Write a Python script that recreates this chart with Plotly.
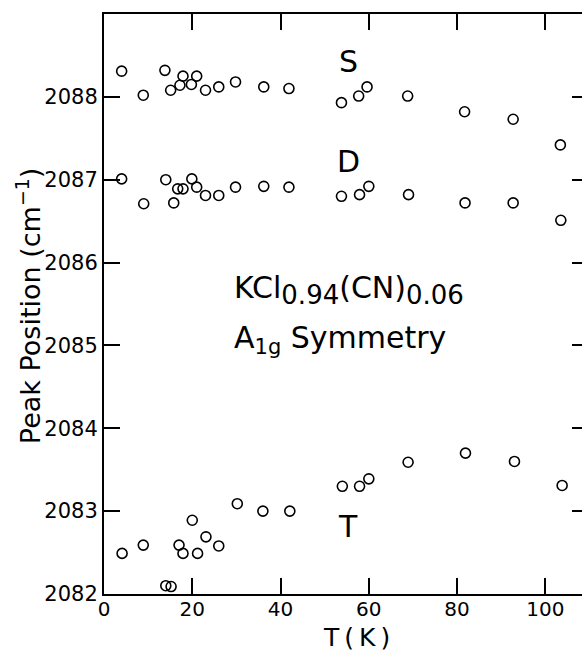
import plotly.graph_objects as go

# Temperatures (K) and peak positions (cm^-1)
S_T = [4.0, 8.9, 13.8, 15.1, 17.2, 17.9, 19.8, 21.0, 23.0, 26.0, 29.8, 36.2, 41.9,
       53.8, 57.7, 59.6, 68.8, 81.7, 92.7, 103.4]
S_pos = [2088.31, 2088.02, 2088.32, 2088.08, 2088.14, 2088.25, 2088.15, 2088.25, 2088.08,
         2088.12, 2088.18, 2088.12, 2088.10, 2087.93, 2088.01, 2088.12, 2088.01, 2087.82,
         2087.73, 2087.42]

D_T = [4.0, 9.0, 14.0, 15.8, 16.7, 17.9, 19.9, 21.0, 23.0, 26.0, 29.8, 36.2, 41.9,
       53.8, 57.9, 60.0, 69.0, 81.8, 92.7, 103.5]
D_pos = [2087.01, 2086.71, 2087.00, 2086.72, 2086.89, 2086.89, 2087.01, 2086.91, 2086.81,
         2086.81, 2086.91, 2086.92, 2086.91, 2086.80, 2086.82, 2086.92, 2086.82, 2086.72,
         2086.72, 2086.51]

T_T = [4.1, 8.9, 14.0, 15.2, 17.0, 17.9, 20.0, 21.2, 23.1, 26.0, 30.2, 36.0, 42.1,
       54.0, 57.9, 60.0, 68.9, 81.9, 93.0, 103.8]
T_pos = [2082.49, 2082.59, 2082.10, 2082.09, 2082.59, 2082.49, 2082.89, 2082.49, 2082.69,
         2082.58, 2083.09, 2083.00, 2083.00, 2083.30, 2083.30, 2083.39, 2083.59, 2083.70,
         2083.60, 2083.31]

x_ticks = [0, 20, 40, 60, 80, 100]
y_ticks = [2082, 2083, 2084, 2085, 2086, 2087, 2088]
y_right_ticks = [2083, 2084, 2085, 2086, 2087, 2088]

FONT = "DejaVu Sans"

fig = go.Figure()
marker = dict(symbol="circle-open", size=10, color="black", line=dict(width=1.6, color="black"))
for xs, ys in [(S_T, S_pos), (D_T, D_pos), (T_T, T_pos)]:
    fig.add_trace(go.Scatter(x=xs, y=ys, mode="markers", marker=marker,
                             showlegend=False, hoverinfo="skip"))
# invisible trace so the right-hand tick axis is drawn
fig.add_trace(go.Scatter(x=S_T, y=S_pos, mode="markers", yaxis="y2",
                         marker=dict(opacity=0), showlegend=False, hoverinfo="skip"))

fig.update_layout(
    width=582, height=654,
    margin=dict(l=104, r=0, t=14, b=60),
    paper_bgcolor="white", plot_bgcolor="white",
    font=dict(family=FONT, color="black"),
    xaxis=dict(range=[0, 108.3], tickvals=x_ticks, ticks="inside", ticklen=16, tickwidth=2,
               tickcolor="black", showline=True, linewidth=2, linecolor="black",
               mirror="ticks", showgrid=False, zeroline=False, ticklabelstandoff=-4,
               tickfont=dict(family=FONT, size=20, color="black")),
    yaxis=dict(range=[2082, 2089], tickvals=y_ticks, ticks="inside", ticklen=16, tickwidth=2,
               tickcolor="black", showline=True, linewidth=2, linecolor="black",
               mirror=False, showgrid=False, zeroline=False, tickformat="d",
               tickfont=dict(family=FONT, size=21, color="black")),
    yaxis2=dict(range=[2082, 2089], overlaying="y", side="right", tickvals=y_right_ticks,
                ticks="inside", ticklen=10, tickwidth=2, tickcolor="black",
                showline=False, showticklabels=False, showgrid=False, zeroline=False),
)

SUB = "<sub><span style='font-size:26px'>%s</span></sub>"
ann = []
for lab, yv in [("S", 2088.43), ("D", 2087.22), ("T", 2082.81)]:
    ann.append(dict(text=lab, x=55.3, y=yv, xref="x", yref="y", showarrow=False,
                    xanchor="center", yanchor="middle", font=dict(family=FONT, size=30)))
ann.append(dict(text="KCl" + SUB % "0.94" + "(CN)" + SUB % "0.06", x=29, y=2085.67,
                xref="x", yref="y", xanchor="left", yanchor="middle", showarrow=False,
                font=dict(family=FONT, size=30)))
ann.append(dict(text="A<sub>1g</sub> Symmetry", x=29, y=2085.07, xref="x", yref="y",
                xanchor="left", yanchor="middle", showarrow=False,
                font=dict(family=FONT, size=30)))
ann.append(dict(text="T\u2009(\u2009K\u2009)", x=0.529, y=-0.0745, xref="paper", yref="paper",
                xanchor="center", yanchor="middle", showarrow=False,
                font=dict(family=FONT, size=25)))
ann.append(dict(text="Peak Position (cm<sup>\u22121</sup>)", x=-0.159, y=0.498, xref="paper",
                yref="paper", xanchor="center", yanchor="middle", textangle=-90,
                showarrow=False, font=dict(family=FONT, size=27)))
fig.update_layout(annotations=ann)

fig.write_html("out.html")
